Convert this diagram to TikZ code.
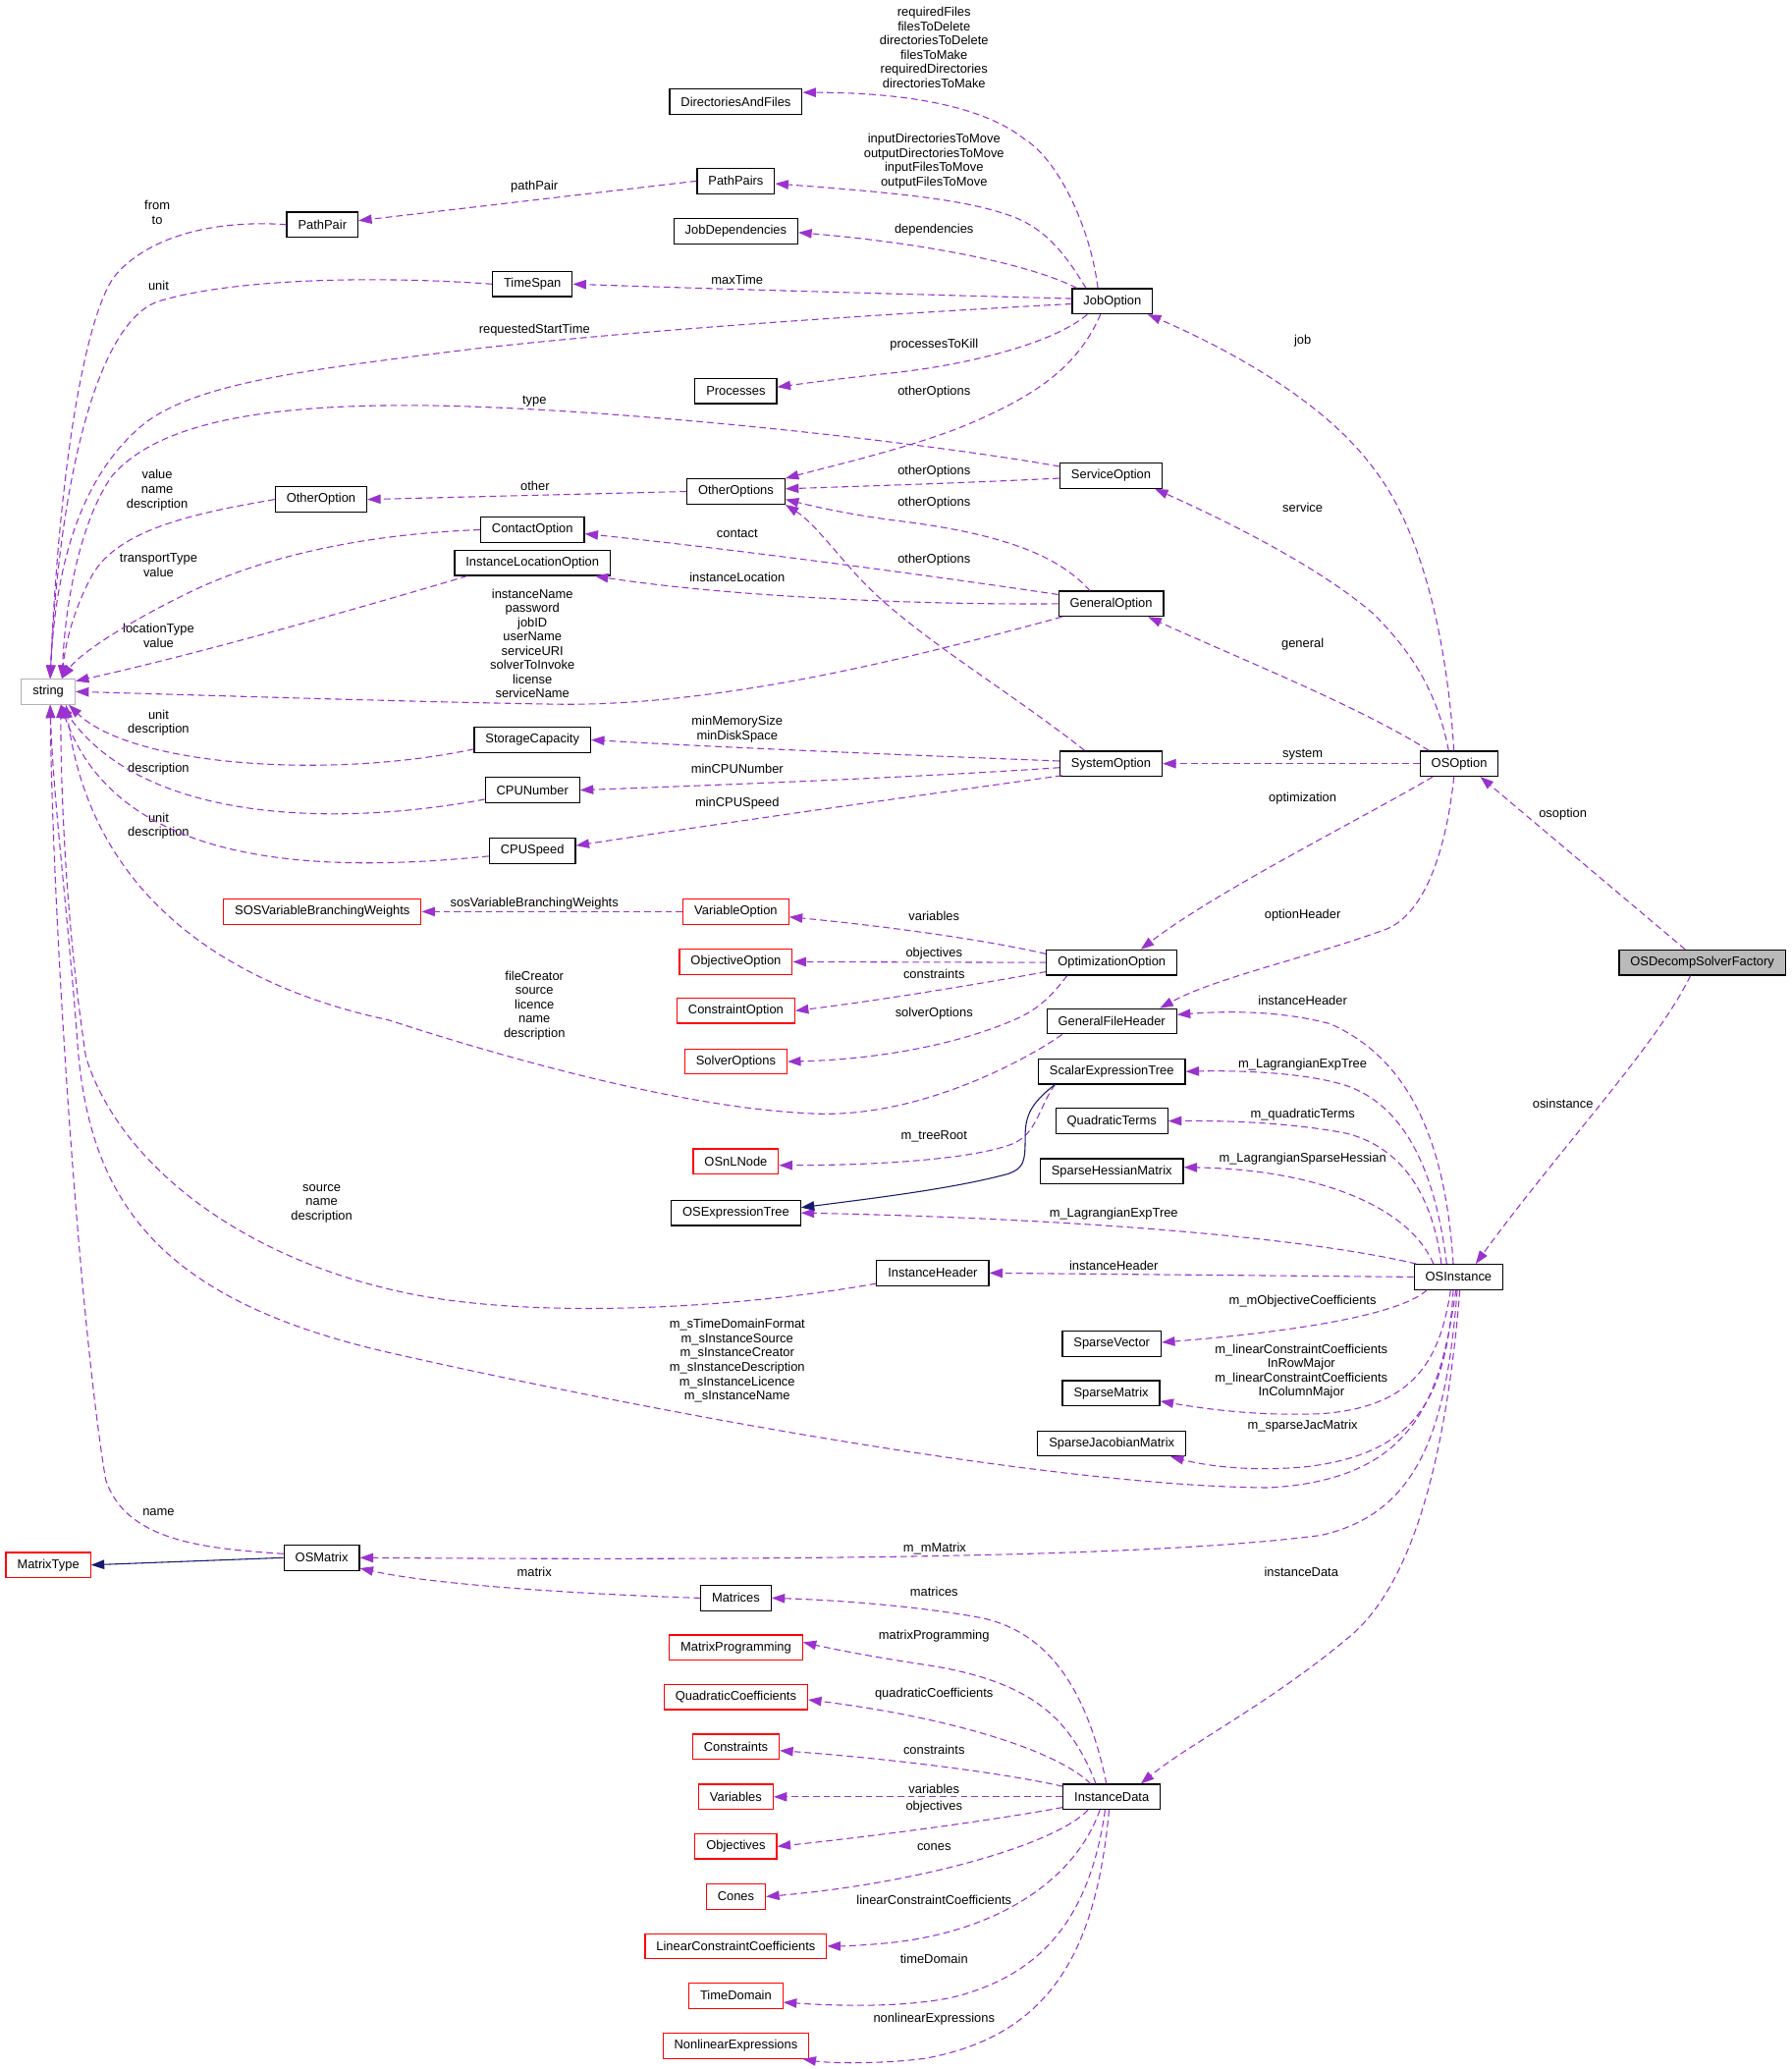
\documentclass[tikz,border=0pt]{standalone}
\usepackage{fontspec}
\setmainfont{Liberation Sans}
\usetikzlibrary{arrows.meta}
\definecolor{depc}{HTML}{9A32CD}
\definecolor{inhc}{HTML}{191970}
\newcommand{\diagfont}{\fontsize{9.6}{10.8}\selectfont}
\tikzset{
 box/.style={draw=black, line width=0.9pt, fill=white, minimum height=19pt, inner xsep=8.5pt, inner ysep=0pt, font=\diagfont},
 redbox/.style={box, draw=red},
 graybox/.style={box, draw=black!30},
 rootbox/.style={box, fill=black!27},
 lbl/.style={inner sep=0pt, align=center, font=\diagfont},
 dep/.style={draw=depc, line width=0.8pt, dash pattern=on 5pt off 3pt, -{Triangle[length=10pt,width=7pt]}},
 inh/.style={draw=inhc, line width=0.8pt, -{Triangle[length=10pt,width=7pt]}},
}
\begin{document}
\begin{tikzpicture}[x=1pt,y=-1pt]
\path[use as bounding box, fill=white] (0,0) rectangle (1356,1566);
% ---------------- nodes ----------------
\node[box] (DirectoriesAndFiles) at (557,77) {DirectoriesAndFiles};
\node[box] (PathPairs) at (557,137) {PathPairs};
\node[box] (PathPair) at (244,170) {PathPair};
\node[box] (JobDependencies) at (557,175) {JobDependencies};
\node[box] (TimeSpan) at (403,215) {TimeSpan};
\node[box] (JobOption) at (842,228) {JobOption};
\node[box] (Processes) at (557,296) {Processes};
\node[box] (OtherOptions) at (557,372) {OtherOptions};
\node[box] (ServiceOption) at (841,360) {ServiceOption};
\node[box] (OtherOption) at (243,378) {OtherOption};
\node[box] (ContactOption) at (403,401) {ContactOption};
\node[box] (InstanceLocationOption) at (403,426) {InstanceLocationOption};
\node[box] (GeneralOption) at (841,457) {GeneralOption};
\node[graybox] (string) at (36.5,523.5) {string};
\node[box] (StorageCapacity) at (403,560) {StorageCapacity};
\node[box] (SystemOption) at (841,578) {SystemOption};
\node[box] (OSOption) at (1104.5,578) {OSOption};
\node[box] (CPUNumber) at (403,598) {CPUNumber};
\node[box] (CPUSpeed) at (403,644) {CPUSpeed};
\node[redbox] (SOSVariableBranchingWeights) at (244,690) {SOSVariableBranchingWeights};
\node[redbox] (VariableOption) at (557,690) {VariableOption};
\node[redbox] (ObjectiveOption) at (557,728) {ObjectiveOption};
\node[box] (OptimizationOption) at (841.5,728.5) {OptimizationOption};
\node[rootbox] (OSDecompSolverFactory) at (1288.5,728.5) {OSDecompSolverFactory};
\node[redbox] (ConstraintOption) at (557,765) {ConstraintOption};
\node[box] (GeneralFileHeader) at (841.5,773) {GeneralFileHeader};
\node[redbox] (SolverOptions) at (557,803.5) {SolverOptions};
\node[box] (ScalarExpressionTree) at (841.5,811) {ScalarExpressionTree};
\node[box] (QuadraticTerms) at (841.5,848.5) {QuadraticTerms};
\node[redbox] (OSnLNode) at (557,879) {OSnLNode};
\node[box] (SparseHessianMatrix) at (841.5,886.5) {SparseHessianMatrix};
\node[box] (OSExpressionTree) at (557,918) {OSExpressionTree};
\node[box] (InstanceHeader) at (706,963.5) {InstanceHeader};
\node[box] (OSInstance) at (1104,966.5) {OSInstance};
\node[box] (SparseVector) at (841.5,1017) {SparseVector};
\node[box] (SparseMatrix) at (841,1054.5) {SparseMatrix};
\node[box] (SparseJacobianMatrix) at (841.5,1092.5) {SparseJacobianMatrix};
\node[redbox] (MatrixType) at (36.5,1184.5) {MatrixType};
\node[box] (OSMatrix) at (243.5,1179) {OSMatrix};
\node[box] (Matrices) at (557,1209.5) {Matrices};
\node[redbox] (MatrixProgramming) at (557,1247) {MatrixProgramming};
\node[redbox] (QuadraticCoefficients) at (557,1284.5) {QuadraticCoefficients};
\node[redbox] (Constraints) at (557,1322) {Constraints};
\node[box] (InstanceData) at (841.5,1360) {InstanceData};
\node[redbox] (Variables) at (557,1360) {Variables};
\node[redbox] (Objectives) at (557,1397.5) {Objectives};
\node[redbox] (Cones) at (557,1435.5) {Cones};
\node[redbox] (LinearConstraintCoefficients) at (557,1473) {LinearConstraintCoefficients};
\node[redbox] (TimeDomain) at (557,1510.5) {TimeDomain};
\node[redbox] (NonlinearExpressions) at (557,1548.5) {NonlinearExpressions};
% ---------------- labels ----------------
\node[lbl] (l1) at (707,36) {requiredFiles\\filesToDelete\\directoriesToDelete\\filesToMake\\requiredDirectories\\directoriesToMake};
\node[lbl] (l2) at (707,122) {inputDirectoriesToMove\\outputDirectoriesToMove\\inputFilesToMove\\outputFilesToMove};
\node[lbl] (l3) at (404.5,141.5) {pathPair};
\node[lbl] (l4) at (119,161) {from\\to};
\node[lbl] (l5) at (707,174) {dependencies};
\node[lbl] (l6) at (558,212) {maxTime};
\node[lbl] (l7) at (120,216) {unit};
\node[lbl] (l8) at (404.5,249.5) {requestedStartTime};
\node[lbl] (l9) at (986,258) {job};
\node[lbl] (l10) at (707,261) {processesToKill};
\node[lbl] (l11) at (707,297) {otherOptions};
\node[lbl] (l12) at (404.5,303.5) {type};
\node[lbl] (l13) at (707,357) {otherOptions};
\node[lbl] (l14) at (119,371) {value\\name\\description};
\node[lbl] (l15) at (405,368) {other};
\node[lbl] (l16) at (707,381) {otherOptions};
\node[lbl] (l17) at (986,384) {service};
\node[lbl] (l18) at (558,403.5) {contact};
\node[lbl] (l19) at (707,424) {otherOptions};
\node[lbl] (l20) at (120,428) {transportType\\value};
\node[lbl] (l21) at (558,437) {instanceLocation};
\node[lbl] (l22) at (120,481) {locationType\\value};
\node[lbl] (l23) at (403,487) {instanceName\\password\\jobID\\userName\\serviceURI\\solverToInvoke\\license\\serviceName};
\node[lbl] (l24) at (986,487.5) {general};
\node[lbl] (l25) at (120,547) {unit\\description};
\node[lbl] (l26) at (558,552) {minMemorySize\\minDiskSpace};
\node[lbl] (l27) at (986,571) {system};
\node[lbl] (l28) at (120,582) {description};
\node[lbl] (l29) at (558,582) {minCPUNumber};
\node[lbl] (l30) at (986,604) {optimization};
\node[lbl] (l31) at (558,608) {minCPUSpeed};
\node[lbl] (l32) at (1183,616.5) {osoption};
\node[lbl] (l33) at (120,625) {unit\\description};
\node[lbl] (l34) at (404.5,684) {sosVariableBranchingWeights};
\node[lbl] (l35) at (707,693) {variables};
\node[lbl] (l36) at (986,693) {optionHeader};
\node[lbl] (l37) at (707,722) {objectives};
\node[lbl] (l38) at (707,737) {constraints};
\node[lbl] (l39) at (986,757) {instanceHeader};
\node[lbl] (l40) at (404.5,761) {fileCreator\\source\\licence\\name\\description};
\node[lbl] (l41) at (707,767) {solverOptions};
\node[lbl] (l42) at (986,806) {m\_LagrangianExpTree};
\node[lbl] (l43) at (1183,835) {osinstance};
\node[lbl] (l44) at (986,843.5) {m\_quadraticTerms};
\node[lbl] (l45) at (707,860) {m\_treeRoot};
\node[lbl] (l46) at (986,877) {m\_LagrangianSparseHessian};
\node[lbl] (l47) at (243.5,911) {source\\name\\description};
\node[lbl] (l48) at (843,919) {m\_LagrangianExpTree};
\node[lbl] (l49) at (843,958) {instanceHeader};
\node[lbl] (l50) at (986,985) {m\_mObjectiveCoefficients};
\node[lbl] (l51) at (985,1038) {m\_linearConstraintCoefficients\\InRowMajor\\m\_linearConstraintCoefficients\\InColumnMajor};
\node[lbl] (l52) at (558,1030) {m\_sTimeDomainFormat\\m\_sInstanceSource\\m\_sInstanceCreator\\m\_sInstanceDescription\\m\_sInstanceLicence\\m\_sInstanceName};
\node[lbl] (l53) at (986,1079) {m\_sparseJacMatrix};
\node[lbl] (l54) at (120,1145) {name};
\node[lbl] (l55) at (707.5,1172) {m\_mMatrix};
\node[lbl] (l56) at (985,1190) {instanceData};
\node[lbl] (l57) at (404.5,1190) {matrix};
\node[lbl] (l58) at (707,1205) {matrices};
\node[lbl] (l59) at (707,1238) {matrixProgramming};
\node[lbl] (l60) at (707,1282) {quadraticCoefficients};
\node[lbl] (l61) at (707,1324) {constraints};
\node[lbl] (l62) at (707,1354) {variables};
\node[lbl] (l63) at (707,1368) {objectives};
\node[lbl] (l64) at (707,1398) {cones};
\node[lbl] (l65) at (707,1438) {linearConstraintCoefficients};
\node[lbl] (l66) at (707,1483) {timeDomain};
\node[lbl] (l67) at (707,1528) {nonlinearExpressions};
% ---------------- edges ----------------
% JobOption
\draw[dep] ([xshift=-11pt]JobOption.north) .. controls (825,170) and (800,120) .. (775,105) .. controls (750,85) and (700,70) .. ([yshift=7pt]DirectoriesAndFiles.east);
\draw[dep] ([xshift=-20pt]JobOption.north) .. controls (805,190) and (790,172) .. (764,163) .. controls (730,151) and (680,146) .. ([yshift=-2pt]PathPairs.east);
\draw[dep] ([xshift=-27pt]JobOption.north) .. controls (780,200) and (700,184) .. ([yshift=-1pt]JobDependencies.east);
\draw[dep] ([yshift=2pt]JobOption.west) .. controls (700,223) and (550,219) .. (TimeSpan.east);
\draw[dep] ([yshift=-2pt]JobOption.west) .. controls (700,236) and (500,248) .. (359,264) .. controls (230,280) and (150,290) .. (110,320) .. controls (60,360) and (42,430) .. ([xshift=1.5pt]string.north);
\draw[dep] ([xshift=-19pt]JobOption.south) .. controls (800,258) and (740,275) .. (678,282) .. controls (640,286) and (610,290) .. ([yshift=3pt]Processes.east);
\draw[dep] ([xshift=-9pt]JobOption.south) .. controls (815,280) and (780,300) .. (740,318) .. controls (700,336) and (640,350) .. (OtherOptions.north east);
% path pairs / time span
\draw[dep] (PathPairs.west) -- ([yshift=3pt]PathPair.east);
\draw[dep] (PathPair.west) .. controls (160,166) and (110,180) .. (86,210) .. controls (65,240) and (45,350) .. ([xshift=1.5pt]string.north);
\draw[dep] (TimeSpan.west) .. controls (290,209) and (180,210) .. (120,228) .. controls (70,245) and (44,380) .. ([xshift=1.5pt]string.north);
% ServiceOption
\draw[dep] ([yshift=7pt]ServiceOption.west) .. controls (700,335) and (480,310) .. (330,307) .. controls (200,305) and (120,320) .. (85,360) .. controls (60,395) and (49,460) .. ([xshift=10.5pt]string.north);
\draw[dep] ([yshift=-2pt]ServiceOption.west) .. controls (720,366) and (650,368) .. ([yshift=2pt]OtherOptions.east);
% OtherOptions / OtherOption
\draw[dep] (OtherOptions.west) -- (OtherOption.east);
\draw[dep] (OtherOption.west) .. controls (150,388) and (90,400) .. (70,435) .. controls (55,462) and (49,490) .. ([xshift=10.5pt]string.north);
% GeneralOption
\draw[dep] ([xshift=-16pt]GeneralOption.north) .. controls (805,425) and (770,405) .. (678,394) .. controls (640,389) and (615,383) .. ([yshift=-6pt]OtherOptions.east);
\draw[dep] ([yshift=7pt]GeneralOption.west) .. controls (700,435) and (550,415) .. ([yshift=-3pt]ContactOption.east);
\draw[dep] (GeneralOption.west) .. controls (680,458) and (540,450) .. ([xshift=-12pt]InstanceLocationOption.south east);
\draw[dep] ([xshift=3pt]GeneralOption.south west) .. controls (700,495) and (550,535) .. (420,533) .. controls (300,531) and (150,526) .. (string.east);
\draw[dep] (ContactOption.west) .. controls (280,404) and (200,420) .. (140,450) .. controls (95,472) and (60,495) .. ([xshift=10.5pt]string.north);
\draw[dep] ([xshift=10pt]InstanceLocationOption.south west) .. controls (280,458) and (150,495) .. ([yshift=8pt]string.east);
% SystemOption
\draw[dep] ([xshift=-20pt]SystemOption.north) .. controls (760,520) and (690,480) .. (650,437) .. controls (630,415) and (615,395) .. (OtherOptions.south east);
\draw[dep] ([yshift=2pt]SystemOption.west) .. controls (700,572) and (550,566) .. (StorageCapacity.east);
\draw[dep] ([yshift=-3pt]SystemOption.west) .. controls (700,588) and (550,594) .. (CPUNumber.east);
\draw[dep] ([xshift=2pt,yshift=1pt]SystemOption.south west) .. controls (740,596) and (600,615) .. ([yshift=4pt]CPUSpeed.east);
\draw[dep] ([yshift=-7pt]StorageCapacity.west) .. controls (250,590) and (100,580) .. ([xshift=15.5pt]string.south);
\draw[dep] ([yshift=-7pt]CPUNumber.west) .. controls (260,625) and (110,625) .. ([xshift=9.5pt]string.south);
\draw[dep] ([yshift=-4pt]CPUSpeed.west) .. controls (250,660) and (90,660) .. ([xshift=9.5pt]string.south);
% OptimizationOption
\draw[dep] (VariableOption.west) -- (SOSVariableBranchingWeights.east);
\draw[dep] ([yshift=6.5pt]OptimizationOption.west) .. controls (740,710) and (660,700) .. ([yshift=-4pt]VariableOption.east);
\draw[dep] (OptimizationOption.west) -- (ObjectiveOption.east);
\draw[dep] ([yshift=-7pt]OptimizationOption.west) .. controls (740,745) and (660,758) .. (ConstraintOption.east);
\draw[dep] ([xshift=16pt]OptimizationOption.south west) .. controls (795,755) and (785,765) .. (765,773) .. controls (720,792) and (660,802) .. (SolverOptions.east);
\draw[dep] ([xshift=12pt]GeneralFileHeader.south west) .. controls (780,800) and (700,845) .. (620,843) .. controls (520,840) and (380,800) .. (294,772) .. controls (190,750) and (70,690) .. ([xshift=13.5pt]string.south);
% OSOption
\draw[dep] ([xshift=-4pt]OSOption.north) .. controls (1095,480) and (1075,400) .. (1040,355) .. controls (1000,300) and (920,260) .. ([xshift=-4pt]JobOption.south east);
\draw[dep] ([xshift=-8pt]OSOption.north) .. controls (1088,525) and (1070,495) .. (1040,465) .. controls (1000,430) and (930,395) .. ([xshift=-6pt]ServiceOption.south east);
\draw[dep] ([xshift=7pt]OSOption.north west) .. controls (1030,535) and (930,495) .. ([xshift=-12pt]GeneralOption.south east);
\draw[dep] (OSOption.west) -- (SystemOption.east);
\draw[dep] ([xshift=10pt]OSOption.south west) .. controls (1030,620) and (920,675) .. ([xshift=22pt]OptimizationOption.north);
\draw[dep] ([xshift=-4pt]OSOption.south) .. controls (1095,640) and (1080,690) .. (1050,703) .. controls (990,725) and (920,740) .. ([xshift=-13pt]GeneralFileHeader.north east);
% OSDecompSolverFactory
\draw[dep] ([xshift=-13pt]OSDecompSolverFactory.north) -- ([xshift=16pt]OSOption.south);
\draw[dep] ([xshift=-9pt]OSDecompSolverFactory.south) .. controls (1255,790) and (1180,870) .. ([xshift=13pt]OSInstance.north);
% OSInstance
\draw[dep] ([xshift=-4pt]OSInstance.north) .. controls (1095,880) and (1075,805) .. (1007,775) .. controls (970,765) and (930,765) .. ([yshift=5pt]GeneralFileHeader.east);
\draw[dep] ([xshift=-9pt]OSInstance.north) .. controls (1088,900) and (1070,840) .. (1020,822) .. controls (990,812) and (940,810) .. (ScalarExpressionTree.east);
\draw[dep] ([xshift=-13pt]OSInstance.north) .. controls (1085,910) and (1065,870) .. (1020,858) .. controls (980,850) and (930,848) .. (QuadraticTerms.east);
\draw[dep] ([xshift=-19pt]OSInstance.north) .. controls (1065,910) and (990,885) .. ([yshift=3pt]SparseHessianMatrix.east);
\draw[dep] ([xshift=2pt]OSInstance.north west) .. controls (980,935) and (800,922) .. (OSExpressionTree.east);
\draw[dep] (OSInstance.west) -- (InstanceHeader.east);
\draw[dep] ([xshift=-24pt]OSInstance.south) .. controls (1060,995) and (980,1008) .. ([yshift=1pt]SparseVector.east);
\draw[dep] ([xshift=-6pt]OSInstance.south) .. controls (1090,1030) and (1070,1065) .. (1000,1070) .. controls (950,1072) and (910,1066) .. ([yshift=-6pt]SparseMatrix.east);
\draw[dep] ([xshift=-4pt]OSInstance.south) .. controls (1095,1060) and (1070,1100) .. (990,1110) .. controls (950,1114) and (915,1110) .. ([xshift=-12pt]SparseJacobianMatrix.south east);
\draw[dep] ([xshift=-1pt]OSInstance.south) .. controls (1095,1080) and (1075,1145) .. (1000,1162) .. controls (900,1175) and (700,1182) .. (OSMatrix.east);
\draw[dep] ([xshift=-2pt]OSInstance.south) .. controls (1090,1060) and (1070,1120) .. (960,1126) .. controls (800,1125) and (500,1070) .. (300,1025) .. controls (120,985) and (65,910) .. (58,780) .. controls (50,680) and (40,600) .. ([xshift=1.5pt]string.south);
\draw[dep] ([xshift=1pt]OSInstance.south) .. controls (1095,1100) and (1070,1200) .. (1020,1240) .. controls (960,1290) and (900,1320) .. ([xshift=22pt]InstanceData.north);
% ScalarExpressionTree
\draw[dep] ([xshift=13pt]ScalarExpressionTree.south west) .. controls (785,840) and (785,860) .. (763,867) .. controls (730,878) and (660,882) .. ([yshift=-3pt]OSnLNode.east);
\draw[inh] ([xshift=13pt]ScalarExpressionTree.south west) .. controls (780,835) and (776,845) .. (776,860) .. controls (776,880) and (775,884) .. (763,888.5) .. controls (720,900) and (660,907) .. ([yshift=4pt]OSExpressionTree.east);
% InstanceHeader
\draw[dep] ([yshift=-8pt]InstanceHeader.west) .. controls (560,990) and (400,1000) .. (300,977) .. controls (180,950) and (90,880) .. (65,800) .. controls (50,700) and (46,600) .. ([xshift=9.5pt]string.south);
% OSMatrix
\draw[inh] (OSMatrix.west) -- (MatrixType.east);
\draw[dep] ([yshift=3pt]OSMatrix.west) .. controls (150,1172) and (95,1165) .. (80,1120) .. controls (60,1000) and (40,700) .. ([xshift=1.5pt]string.south);
\draw[dep] (Matrices.west) .. controls (450,1207) and (330,1200) .. ([yshift=2pt]OSMatrix.south east);
% InstanceData
\draw[dep] ([xshift=-4pt]InstanceData.north) .. controls (825,1290) and (800,1235) .. (740,1224) .. controls (690,1215) and (630,1211) .. (Matrices.east);
\draw[dep] ([xshift=-12pt]InstanceData.north) .. controls (810,1300) and (780,1272) .. (700,1260) .. controls (660,1254) and (630,1248) .. ([yshift=4pt]MatrixProgramming.east);
\draw[dep] ([xshift=-16pt]InstanceData.north) .. controls (800,1325) and (720,1300) .. ([yshift=-2pt]QuadraticCoefficients.east);
\draw[dep] ([yshift=8pt]InstanceData.west) .. controls (750,1340) and (660,1330) .. ([yshift=-3pt]Constraints.east);
\draw[dep] (InstanceData.west) -- (Variables.east);
\draw[dep] ([yshift=-8pt]InstanceData.west) .. controls (750,1378) and (660,1390) .. (Objectives.east);
\draw[dep] ([xshift=-18pt]InstanceData.south) .. controls (800,1395) and (700,1425) .. (Cones.east);
\draw[dep] ([xshift=-9pt]InstanceData.south) .. controls (815,1420) and (760,1460) .. (678,1470) .. controls (660,1472) and (640,1473) .. (LinearConstraintCoefficients.east);
\draw[dep] ([xshift=-5pt]InstanceData.south) .. controls (825,1450) and (790,1495) .. (720,1512) .. controls (680,1520) and (630,1518) .. ([yshift=-5pt]TimeDomain.east);
\draw[dep] ([xshift=-2pt]InstanceData.south) .. controls (830,1470) and (800,1540) .. (700,1558) .. controls (670,1562) and (630,1562) .. ([xshift=-5pt]NonlinearExpressions.south east);
\end{tikzpicture}
\end{document}
